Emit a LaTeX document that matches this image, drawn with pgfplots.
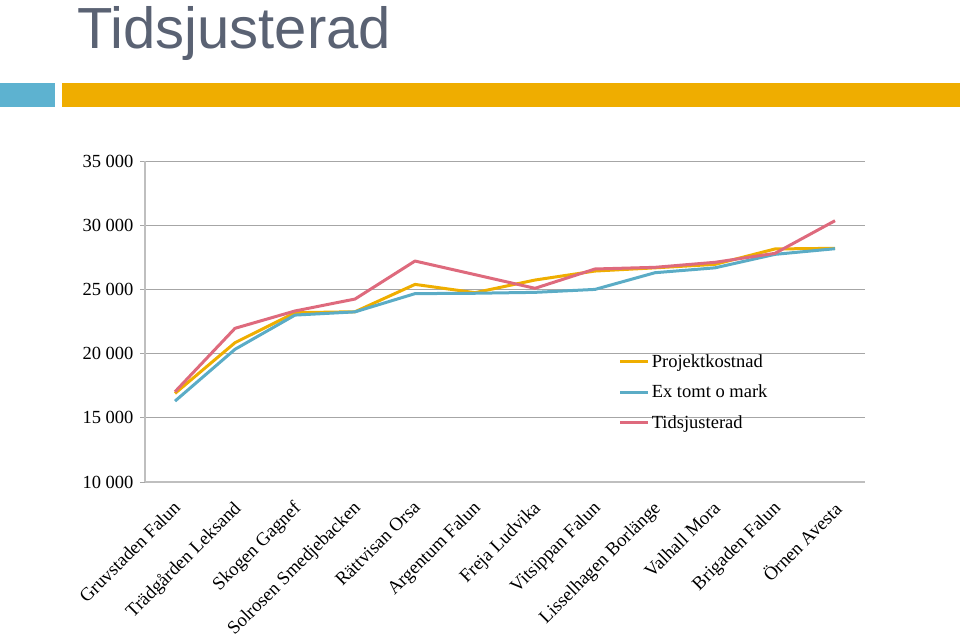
\documentclass[border=0pt]{standalone}
\usepackage{pgfplots}
\pgfplotsset{compat=1.18}
\usepackage{fontspec}
\setmainfont{Liberation Serif}
\newfontfamily\titlefont{Liberation Sans}
\definecolor{cOrange}{HTML}{EFAE00}
\definecolor{cBlue}{HTML}{5BACC6}
\definecolor{cRed}{HTML}{DE6A7D}
\definecolor{cTitle}{HTML}{5A6273}
\definecolor{cBar}{HTML}{EFAD00}
\definecolor{cSq}{HTML}{5DB2D0}
\definecolor{cAxis}{HTML}{BFBFBF}
\definecolor{cGrid}{HTML}{A6A6A6}
\begin{document}
\begin{tikzpicture}[x=1pt,y=1pt]
\useasboundingbox (0,0) rectangle (960,633);
\fill[cSq] (0,526) rectangle (55,550);
\fill[cBar] (62,526) rectangle (960,550);
\node[anchor=base west,inner sep=0pt,text=cTitle,font=\titlefont\fontsize{58}{60}\selectfont] at (77,584) {Tidsjusterad};
\begin{axis}[
  at={(145pt,151pt)}, anchor=south west,
  scale only axis, width=720pt, height=321pt,
  xmin=0.5, xmax=12.5, ymin=10000, ymax=35000,
  axis x line=bottom, axis y line=left,
  axis line style={cAxis, line width=1.2pt, -},
  ytick={10000,15000,...,35000},
  scaled y ticks=false,
  yticklabel={\pgfmathprintnumber[1000 sep={\ }, fixed, precision=0, assume math mode=true]{\tick}},
  ymajorgrids, grid style={cGrid, line width=0.8pt},
  y tick style={cGrid, line width=0.8pt},
  major tick length=5pt,
  tick align=outside,
  yticklabel style={font=\fontsize{18.5}{20}\selectfont, xshift=-3pt},
  xtick={1,...,12},
  xticklabels={Gruvstaden Falun,Trädgården Leksand,Skogen Gagnef,Solrosen Smedjebacken,Rättvisan Orsa,Argentum Falun,Freja Ludvika,Vitsippan Falun,Lisselhagen Borlänge,Valhall Mora,Brigaden Falun,Örnen Avesta},
  x tick style={draw=none},
  minor xtick={0.5,1.5,...,12.5},
  minor x tick style={cAxis, line width=1.2pt},
  minor tick length=5pt,
  xticklabel style={font=\fontsize{18.7}{20}\selectfont, rotate=45, anchor=north east, inner sep=1pt, xshift=-10pt, yshift=-6pt},
  clip=false,
  legend style={at={(0.655,0.41)}, anchor=north west, draw=none, fill=none,
    font=\fontsize{18.5}{20}\selectfont, row sep=12pt, inner sep=2pt},
  legend cell align=left,
  legend image code/.code={\draw[#1, line width=3pt] (0pt,0pt) -- (28pt,0pt);},
  every axis plot/.append style={line width=3pt, line join=round, no markers},
]
\addplot[cOrange] coordinates {(1,16900) (2,20850) (3,23185) (4,23260) (5,25390) (6,24745) (7,25730) (8,26430) (9,26680) (10,26950) (11,28150) (12,28200)};
\addlegendentry{Projektkostnad}
\addplot[cBlue] coordinates {(1,16300) (2,20335) (3,23000) (4,23250) (5,24670) (6,24700) (7,24770) (8,25000) (9,26300) (10,26680) (11,27730) (12,28170)};
\addlegendentry{Ex tomt o mark}
\addplot[cRed] coordinates {(1,17030) (2,21970) (3,23320) (4,24250) (5,27210) (6,26150) (7,25085) (8,26590) (9,26720) (10,27110) (11,27810) (12,30350)};
\addlegendentry{Tidsjusterad}
\end{axis}
\end{tikzpicture}
\end{document}
